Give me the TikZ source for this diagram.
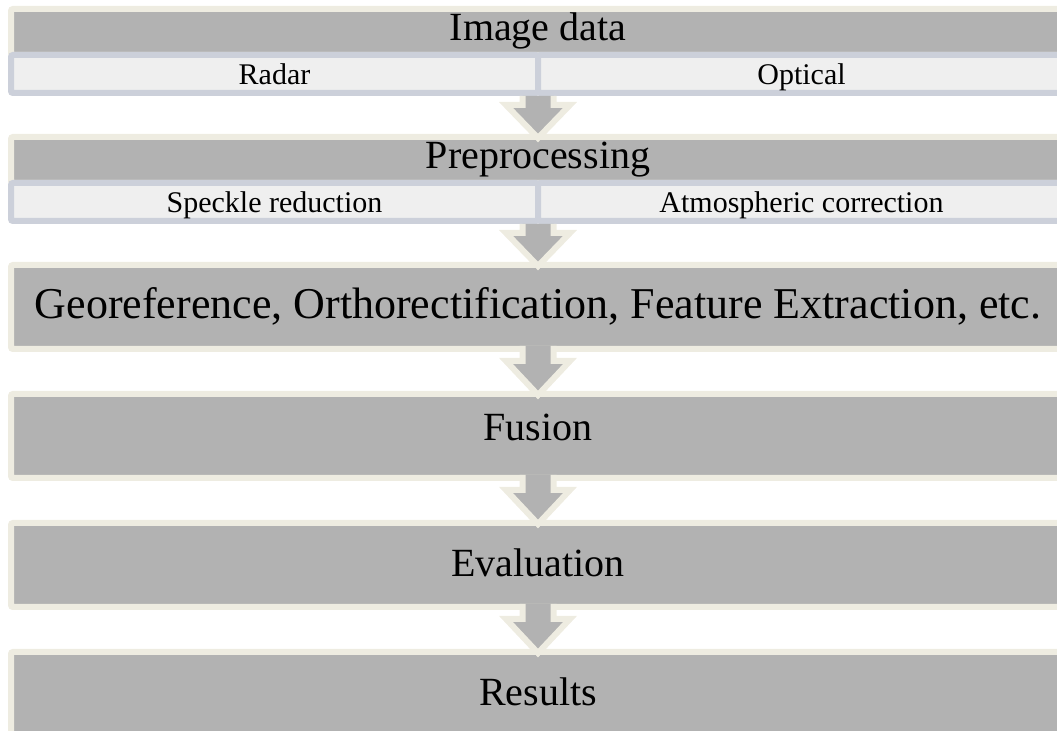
\documentclass[tikz,border=0pt]{standalone}
\usepackage{fontspec}
\setmainfont{Liberation Serif}
\usepackage{xcolor}
\usetikzlibrary{positioning,calc}

\definecolor{boxgray}{RGB}{178,178,178}
\definecolor{boxrim}{RGB}{238,236,225}
\definecolor{subrim}{RGB}{204,208,218}
\definecolor{subfill}{RGB}{239,239,239}

\begin{document}
\begin{tikzpicture}[
    node distance=22.5pt,
    stage/.style={draw=boxrim, fill=boxgray, line width=3pt, rounded corners=1pt, minimum width=527pt, minimum height=42pt, inner sep=0pt, outer sep=0pt, text height=1.3em, text depth=0.1em, font=\fontsize{20}{24}\selectfont},
    headbar/.style={stage, minimum height=23pt, text height=1em, text depth=0.12em},
    half/.style={draw=subrim, fill=subfill, line width=3pt, rounded corners=1pt, minimum width=263.5pt, minimum height=19pt, inner sep=0pt, outer sep=0pt, text height=1.1em, text depth=0.09em, font=\fontsize{15}{18}\selectfont},
    flowarrow/.style={draw=boxrim, fill=boxgray, line width=3pt,
      to path={($(\tikztostart)+(-7.75pt,#1)$) -- ($(\tikztostart)+(-7.75pt,-6pt)$) -- ($(\tikztostart)+(-16pt,-6pt)$) -- ($(\tikztotarget)+(0,-0.5pt)$) -- ($(\tikztostart)+(16pt,-6pt)$) -- ($(\tikztostart)+(7.75pt,-6pt)$) -- ($(\tikztostart)+(7.75pt,#1)$)}},
    flowarrow/.default=1.5pt
  ]
    \useasboundingbox (0,0) rectangle (528.5pt,-365.5pt);
    \clip (0,0) rectangle (528.5pt,-365.5pt);
    % input and preprocessing rows
    \node[headbar, anchor=north] (img) at (269pt,-4.5pt) {Image data};
    \node[half, anchor=north west] (radar) at (img.south west) {Radar};
    \node[half, right=0pt of radar] (optical) {Optical};
    \node[headbar, below=41pt of img] (pre) {Preprocessing};
    \node[half, anchor=north west] (speckle) at (pre.south west) {Speckle reduction};
    \node[half, right=0pt of speckle] (atmos) {Atmospheric correction};
    % processing chain
    \node[stage, below=41pt of pre, font=\fontsize{22}{26}\selectfont] (geo) {Georeference, Orthorectification, Feature Extraction, etc.};
    \node[stage, below=of geo, text height=0.68em, text depth=0.2em] (fusion) {Fusion};
    \node[stage, below=of fusion] (eval) {Evaluation};
    \node[stage, below=of eval] (res) {Results};
    % block arrows
    \path[flowarrow=-1.5pt] (radar.south east) to (pre.north);
    \path[flowarrow=-1.5pt] (speckle.south east) to (geo.north);
    \path[flowarrow] (geo.south) to (fusion.north);
    \path[flowarrow] (fusion.south) to (eval.north);
    \path[flowarrow] (eval.south) to (res.north);
\end{tikzpicture}
\end{document}
